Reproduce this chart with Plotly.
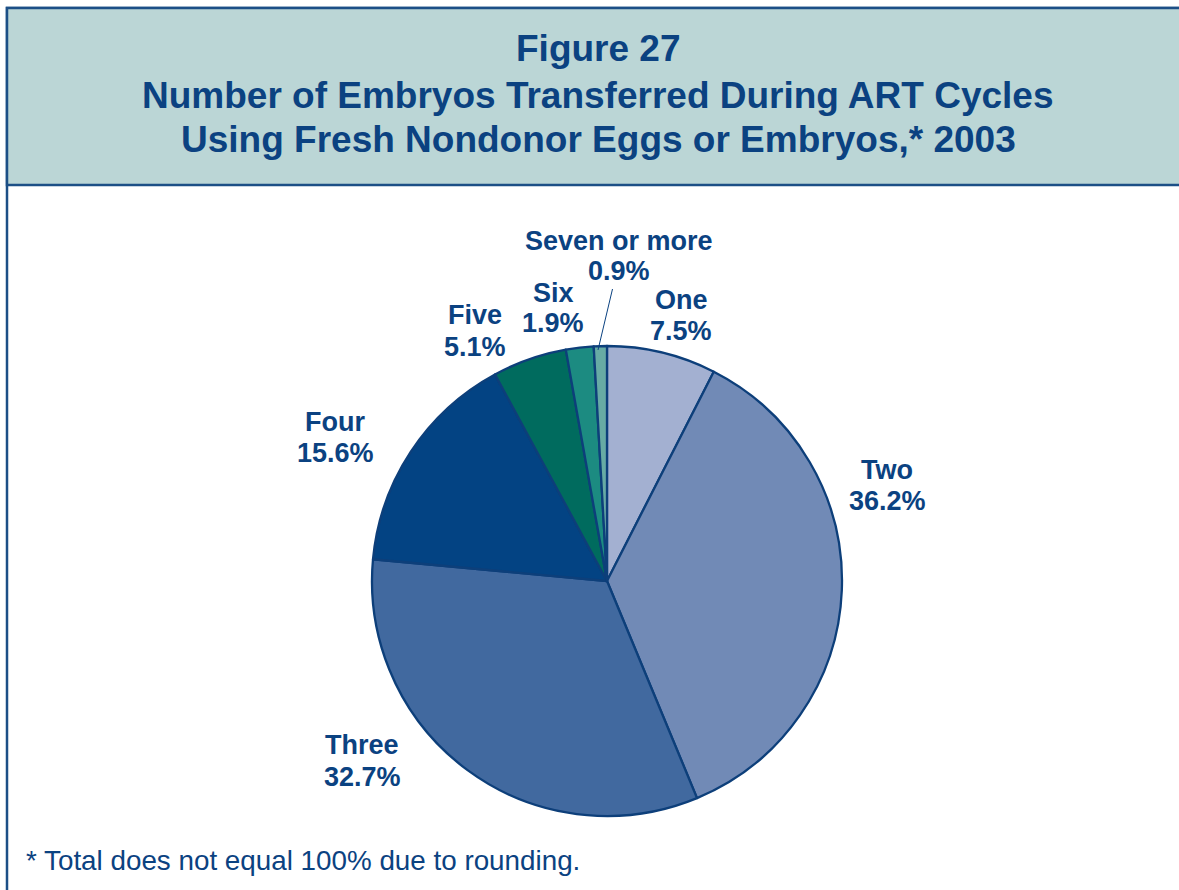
import plotly.graph_objects as go

W, H = 1179, 890

categories = ["One", "Two", "Three", "Four", "Five", "Six", "Seven or more"]
percent = [7.5, 36.2, 32.7, 15.6, 5.1, 1.9, 0.9]
colors = ["#a3b0d1", "#718ab6", "#41699f", "#034383", "#006b5e", "#1c8b81", "#67aba4"]
# label positions in pixels: x centre, y of first line, y of second line
label_pos = [(681, 300, 331), (887, 470, 501), (362, 745, 777), (335, 422, 453),
             (475, 315, 347), (553, 293, 323), (619, 241, 271)]

title_lines = ["Figure 27",
               "Number of Embryos Transferred During ART Cycles",
               "Using Fresh Nondonor Eggs or Embryos,* 2003"]
footnote = "* Total does not equal 100% due to rounding."

DARK = "#0b4281"
FONT = "Liberation Sans, Arial, Helvetica, sans-serif"


def fx(x):
    return x / W


def fy(y):
    return 1 - y / H


cx, cy, r = 607, 581, 235

fig = go.Figure(go.Pie(
    labels=categories,
    values=percent,
    sort=False,
    direction="clockwise",
    rotation=0,
    marker=dict(colors=colors, line=dict(color="#0d3f7a", width=2.3)),
    textinfo="none",
    hoverinfo="label+percent",
    domain=dict(x=[fx(cx - r), fx(cx + r)], y=[fy(cy + r), fy(cy - r)]),
    showlegend=False,
))

shapes = [
    # outer frame
    dict(type="rect", xref="paper", yref="paper", x0=fx(7), x1=fx(1190), y0=fy(900), y1=fy(8),
         line=dict(color="#1c4f86", width=2.5), fillcolor="white", layer="below"),
    # title box
    dict(type="rect", xref="paper", yref="paper", x0=fx(7), x1=fx(1190), y0=fy(185), y1=fy(8),
         line=dict(color="#1c4f86", width=2.5), fillcolor="#bbd6d6", layer="below"),
    # leader line for "Seven or more"
    dict(type="line", xref="paper", yref="paper", x0=fx(612.5), y0=fy(289), x1=fx(598), y1=fy(350),
         line=dict(color=DARK, width=1)),
]

annotations = []
for ln, yy in zip(title_lines, [48, 95, 140]):
    annotations.append(dict(text=ln, x=fx(598), y=fy(yy), xref="paper", yref="paper",
                            showarrow=False, xanchor="center", yanchor="middle",
                            font=dict(family=FONT, size=37, color=DARK, weight="bold")))

for name, val, (lx, y1, y2) in zip(categories, percent, label_pos):
    for txt, yy in ((name, y1), (f"{val}%", y2)):
        annotations.append(dict(text=txt, x=fx(lx), y=fy(yy), xref="paper", yref="paper",
                                showarrow=False, xanchor="center", yanchor="middle",
                                font=dict(family=FONT, size=27, color=DARK, weight="bold")))

annotations.append(dict(text=footnote, x=fx(24), y=fy(860), xref="paper", yref="paper",
                        showarrow=False, xanchor="left", yanchor="middle",
                        font=dict(family=FONT, size=27.8, color=DARK)))

fig.update_layout(
    width=W, height=H,
    margin=dict(l=0, r=0, t=0, b=0),
    paper_bgcolor="white",
    shapes=shapes,
    annotations=annotations,
)

fig.write_html("out.html", config={"displayModeBar": False},
               post_script="document.body.style.margin='0';")
